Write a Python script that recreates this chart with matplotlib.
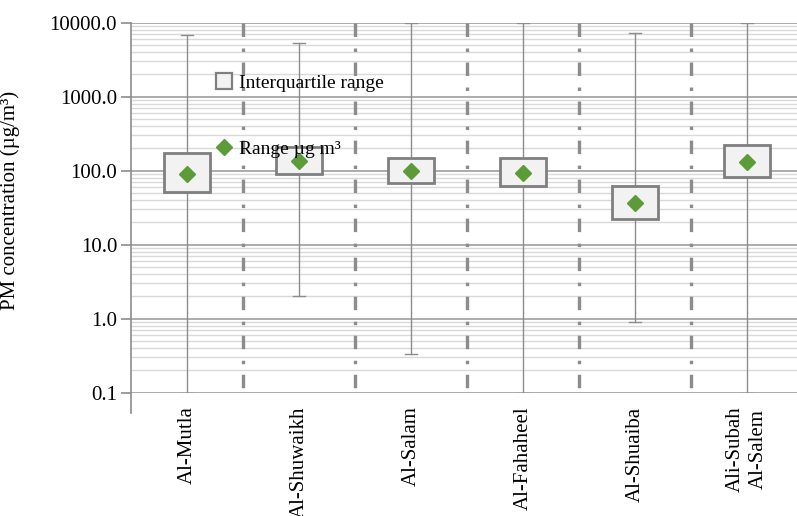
import matplotlib
matplotlib.use("Agg")
import matplotlib.pyplot as plt
from matplotlib.lines import Line2D
from matplotlib.patches import Rectangle
from matplotlib.ticker import LogLocator, FixedFormatter, FixedLocator, NullFormatter

plt.rcParams.update({
    "font.family": ["Liberation Serif", "DejaVu Serif"],
    "font.size": 15,
    "lines.scale_dashes": False,
})

# ---- data (ug/m3, log axis) ----
sites = ["Al-Mutla", "Al-Shuwaikh", "Al-Salam", "Al-Fahaheel", "Al-Shuaiba",
         "Ali-Subah\nAl-Salem"]
range_max = [6900, 5300, 10000, 10000, 7300, 10000]
range_min = [0.1, 2.0, 0.33, 0.1, 0.9, 0.1]
q_low = [52, 91, 69, 61, 22, 81]
q_high = [171, 207, 147, 147, 61, 219]
centre = [89, 133, 100, 92, 36, 129]
ytick_vals = [0.1, 1, 10, 100, 1000, 10000]
ytick_text = ["0.1", "1.0", "10.0", "100.0", "1000.0", "10000.0"]

GRID_MAJ = "#a6a6a6"
GRID_MIN = "#d9d9d9"
WHISK = "#8c8c8c"
BOX_EDGE = "#7f7f7f"
BOX_FACE = "#f2f2f2"
GREEN = "#5b9b3a"

fig = plt.figure(figsize=(7.97, 5.16), dpi=100)
ax = fig.add_axes([131 / 797, 1 - 392.5 / 516, 672 / 797, 369.8 / 516])
ax.set_yscale("log")
ax.set_ylim(0.1, 10000)
ax.set_xlim(-0.5, len(sites) - 0.5)

# grid
ax.yaxis.set_major_locator(FixedLocator(ytick_vals))
ax.yaxis.set_major_formatter(FixedFormatter(ytick_text))
ax.yaxis.set_minor_locator(LogLocator(base=10, subs=range(2, 10)))
ax.yaxis.set_minor_formatter(NullFormatter())
ax.grid(True, which="minor", axis="y", color=GRID_MIN, lw=1.0, zorder=0)
ax.grid(True, which="major", axis="y", color=GRID_MAJ, lw=1.3, zorder=0)
ax.set_axisbelow(True)

for s in ["top", "right", "bottom", "left"]:
    ax.spines[s].set_visible(False)
# left axis line runs a little below the 0.1 line
ax.add_line(Line2D([0, 0], [-0.055, 1], transform=ax.transAxes, color=WHISK,
                   lw=1.2, clip_on=False))

ax.tick_params(axis="y", which="major", length=7, width=1.2, color=WHISK,
               direction="out", pad=3, labelsize=15)
ax.tick_params(axis="y", which="minor", length=0)
ax.tick_params(axis="x", length=0, pad=10, labelsize=15)
ax.set_xticks(range(len(sites)))
ax.set_xticklabels(sites, rotation=90, va="top", ha="center",
                   linespacing=1.25)

# dash-dot separators between sites
for i in range(len(sites) - 1):
    ax.plot([i + 0.5, i + 0.5], [10000, 0.115], color="#8c8c8c", lw=2.4,
            dashes=(9.7, 8.3, 2.5, 7.6), zorder=1)

# whiskers, boxes and markers
bw = 0.41
for i in range(len(sites)):
    ax.plot([i, i], [range_min[i], range_max[i]], color=WHISK, lw=1.0,
            zorder=2)
    for v in (range_min[i], range_max[i]):
        ax.plot([i - 0.05, i + 0.05], [v, v], color=WHISK, lw=1.0, zorder=2)
    ax.add_patch(Rectangle((i - bw / 2, q_low[i]), bw, q_high[i] - q_low[i],
                           facecolor=BOX_FACE, edgecolor=BOX_EDGE, lw=2.0,
                           zorder=3))
ax.plot(range(len(sites)), centre, ls="none", marker="D", ms=8.5,
        color=GREEN, zorder=4)

ax.set_ylabel("PM concentration (µg/m³)", fontsize=15)
ax.yaxis.set_label_coords(-0.165, 0.52)

# legend (Excel places it inside the plot)
handles = [
    Line2D([], [], ls="none", marker="s", ms=11, mfc=BOX_FACE, mec=BOX_EDGE,
           mew=1.6),
    Line2D([], [], ls="none", marker="D", ms=8, color=GREEN),
]
leg = ax.legend(handles, ["Interquartile range", "Range µg m³"],
                loc="upper left", bbox_to_anchor=(214 / 797, 1 - 74 / 516),
                bbox_transform=fig.transFigure, frameon=False, fontsize=14,
                handlelength=1.0, handletextpad=0.3, borderpad=0,
                borderaxespad=0, labelspacing=2.5)
leg.set_zorder(10)

fig.savefig("out.png", dpi=100)
